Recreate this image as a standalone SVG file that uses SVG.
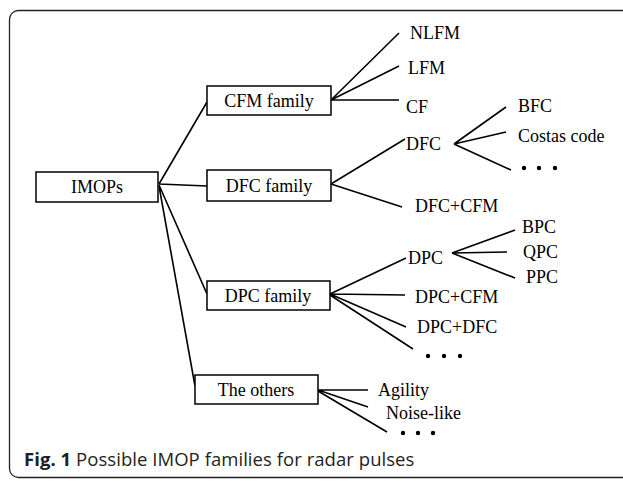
<svg xmlns="http://www.w3.org/2000/svg" width="623" height="481" viewBox="0 0 623 481">
<style>
.box{fill:#fff;stroke:#000;stroke-width:1.5}
.t{font-family:"Liberation Serif","Times New Roman",serif;font-size:18px;fill:#000}
.c{text-anchor:middle}
.ln{stroke:#000;stroke-width:1.6;fill:none}
.cap{font-family:"Open Sans","Noto Sans",sans-serif;font-size:18.5px;letter-spacing:0.05px;fill:#231f20}
</style>
<rect x="9.5" y="10.5" width="640" height="467" rx="9" fill="#fff" stroke="#222" stroke-width="1.3"/>
<g id="connectors" class="ln">
<path d="M159 184L207 102M159 184L207 186M159 185L207 294M159 186L195 386"/>
<path d="M331 100L399 33M331 100L399 66M331 100L399 100"/>
<path d="M331 184L405 139M331 184L402 207"/>
<path d="M454 144L506 107M454 144L506 132M454 144L511 170"/>
<path d="M330 294L406 258M330 294L405 295M330 294L406 327M330 295L413 349"/>
<path d="M452 253L515 230M452 253L507 252M452 253L515 278"/>
<path d="M318 390L368 390M318 390L368 407M318 391L387 432"/>
</g>
<g id="imops"><rect class="box" x="36" y="172" width="122" height="30"/><text class="t c" x="97" y="193">IMOPs</text></g>
<g id="cfm-family"><rect class="box" x="207" y="86" width="124" height="29"/><text class="t c" x="269" y="107">CFM family</text></g>
<g id="dfc-family"><rect class="box" x="207" y="170" width="124" height="31"/><text class="t c" x="269" y="192">DFC family</text></g>
<g id="dpc-family"><rect class="box" x="207" y="281" width="123" height="29"/><text class="t c" x="268" y="302">DPC family</text></g>
<g id="others"><rect class="box" x="195" y="375" width="123" height="29"/><text class="t c" x="256" y="396">The others</text></g>
<g id="nlfm"><text class="t" x="410" y="39">NLFM</text></g>
<g id="lfm"><text class="t" x="408" y="74">LFM</text></g>
<g id="cf"><text class="t" x="406" y="113">CF</text></g>
<g id="dfc"><text class="t" x="406" y="150">DFC</text></g>
<g id="dfc-cfm"><text class="t" x="415" y="212">DFC+CFM</text></g>
<g id="bfc"><text class="t" x="518" y="112">BFC</text></g>
<g id="costas"><text class="t" x="518" y="142">Costas code</text></g>
<g id="dfc-dots"><circle cx="524" cy="168" r="2.2"/><circle cx="539" cy="168" r="2.2"/><circle cx="555" cy="168" r="2.2"/></g>
<g id="dpc"><text class="t" x="408" y="264">DPC</text></g>
<g id="bpc"><text class="t" x="522" y="233">BPC</text></g>
<g id="qpc"><text class="t" x="523" y="258">QPC</text></g>
<g id="ppc"><text class="t" x="526" y="283">PPC</text></g>
<g id="dpc-cfm"><text class="t" x="415" y="303">DPC+CFM</text></g>
<g id="dpc-dfc"><text class="t" x="417" y="333">DPC+DFC</text></g>
<g id="dpc-dots"><circle cx="428" cy="356" r="2.2"/><circle cx="444" cy="356" r="2.2"/><circle cx="460" cy="356" r="2.2"/></g>
<g id="agility"><text class="t" x="378" y="396">Agility</text></g>
<g id="noise"><text class="t" x="386" y="419">Noise-like</text></g>
<g id="others-dots"><circle cx="403" cy="433" r="2.2"/><circle cx="418" cy="433" r="2.2"/><circle cx="433" cy="433" r="2.2"/></g>
<text class="cap" x="24" y="466"><tspan font-weight="bold">Fig. 1</tspan> Possible IMOP families for radar pulses</text>
</svg>
